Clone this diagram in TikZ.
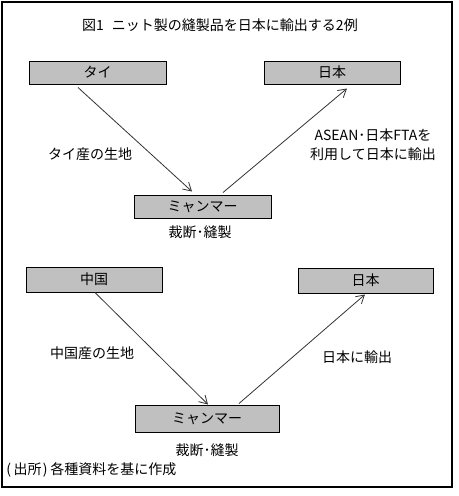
\documentclass[tikz,border=0pt]{standalone}
\usepackage{fontspec}
\setmainfont{Noto Sans CJK JP}
\usetikzlibrary{arrows.meta}
\tikzset{
  box/.style={draw=black, line width=0.75pt, fill=boxgray, inner sep=0pt, font=\fontsize{10.5pt}{12pt}\selectfont},
  lbl/.style={inner sep=0pt, align=center, font=\fontsize{10.5pt}{14pt}\selectfont},
  conn/.style={draw=black!80, line width=0.6pt, -{Straight Barb[length=6pt,width=7pt]}},
}
\definecolor{boxgray}{HTML}{C0C0C0}
\begin{document}
\begin{tikzpicture}[x=0.75pt, y=-0.75pt]
\useasboundingbox (0,0) rectangle (458,496);
\draw[line width=0.9pt] (2,2) rectangle (452,487);
\node[lbl] (title) at (220,25) {図1\hspace{6pt}ニット製の縫製品を日本に輸出する2例};
% upper example
\node[box, minimum width=137*0.75pt, minimum height=23*0.75pt] (tai) at (97.5,72.5) {タイ};
\node[box, minimum width=136*0.75pt, minimum height=23*0.75pt] (jp1) at (332,72.5) {日本};
\node[box, minimum width=137*0.75pt, minimum height=23*0.75pt] (my1) at (202.5,206.5) {ミャンマー};
\node[lbl] (l1) at (90,154) {タイ産の生地};
\node[lbl] (l2) at (373,145) {ASEAN･日本FTAを\\利用して日本に輸出};
\node[lbl] (l3) at (200,232) {裁断･縫製};
\draw[conn] ([xshift=-19.5*0.75pt, yshift=-3*0.75pt]tai.south) -- ([xshift=-10.5*0.75pt, yshift=3*0.75pt]my1.north);
\draw[conn] ([xshift=20.5*0.75pt, yshift=2*0.75pt]my1.north) -- ([xshift=15*0.75pt, yshift=-4*0.75pt]jp1.south);
% lower example
\node[box, minimum width=136*0.75pt, minimum height=25*0.75pt] (cn) at (94,279.5) {中国};
\node[box, minimum width=135*0.75pt, minimum height=25*0.75pt] (jp2) at (365.5,280.5) {日本};
\node[box, minimum width=144*0.75pt, minimum height=27*0.75pt] (my2) at (207,418.5) {ミャンマー};
\node[lbl] (l4) at (92,353) {中国産の生地};
\node[lbl] (l5) at (357,357) {日本に輸出};
\node[lbl] (l6) at (207,450) {裁断･縫製};
\draw[conn] ([xshift=1*0.75pt, yshift=0*0.75pt]cn.south) -- ([xshift=1*0.75pt, yshift=0*0.75pt]my2.north);
\draw[conn] ([xshift=32*0.75pt, yshift=1*0.75pt]my2.north) -- ([xshift=-0.5*0.75pt, yshift=-1*0.75pt]jp2.south);
\node[lbl, anchor=west] (src) at (6,470) {(\hspace{2pt}出所\hspace{1pt})\hspace{2pt}各種資料を基に作成};
\end{tikzpicture}
\end{document}
